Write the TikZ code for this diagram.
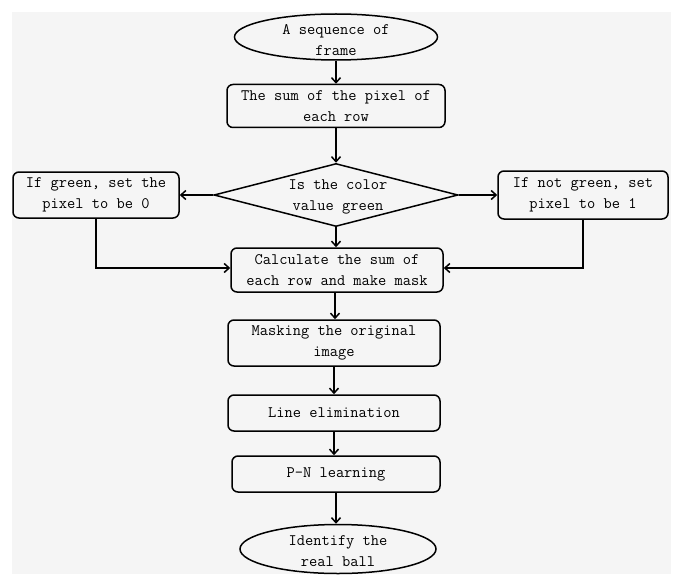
\documentclass[tikz,border=0pt]{standalone}
\usetikzlibrary{shapes.geometric,arrows.meta}
\begin{document}
\begin{tikzpicture}[x=1pt,y=1pt,
  every node/.style={font=\ttfamily\fontsize{16}{21}\selectfont},
  arr/.style={line width=1.5pt,-{Straight Barb[length=5pt,width=9pt,line width=1.5pt]}},
  txt/.style={align=center,inner sep=0pt},
  rbox/.style={draw,line width=1.5pt,rounded corners=6pt,inner sep=0pt},
  oval/.style={draw,line width=1.5pt,ellipse,inner sep=0pt},
  dia/.style={draw,line width=1.5pt,diamond,inner sep=0pt}
]
\useasboundingbox (0,0) rectangle (676,574);
\fill[black!4] (12,0) rectangle (671,562);

\node[oval,minimum width=203pt,minimum height=46pt] (start) at (336,537) {};
\node[txt] (starttxt) at (336,534) {A sequence of\\frame};

\node[rbox,minimum width=218pt,minimum height=43pt] (sum) at (336,468) {};
\node[txt] (sumtxt) at (336,468) {The sum of the pixel of\\each row};

\node[dia,minimum width=244pt,minimum height=63pt] (dec) at (336,379) {};
\node[txt] (dectxt) at (338,377) {Is the color\\value green};

\node[rbox,minimum width=166pt,minimum height=46pt] (left) at (96,379) {};
\node[txt] (lefttxt) at (96,379) {If green, set the\\pixel to be 0};

\node[rbox,minimum width=170pt,minimum height=48pt] (right) at (583,379) {};
\node[txt] (righttxt) at (583,379) {If not green, set\\pixel to be 1};

\node[rbox,minimum width=212pt,minimum height=44pt] (calc) at (337,304) {};
\node[txt] (calctxt) at (337,304) {Calculate the sum of\\each row and make mask};

\node[rbox,minimum width=212pt,minimum height=46pt] (mask) at (334,231) {};
\node[txt] (masktxt) at (334,231) {Masking the original\\image};

\node[rbox,minimum width=212pt,minimum height=36pt] (elim) at (334,161) {};
\node[txt] (elimtxt) at (334,161) {Line elimination};

\node[rbox,minimum width=208pt,minimum height=36pt] (pn) at (336,100) {};
\node[txt] (pntxt) at (336,100) {P-N learning};

\node[oval,minimum width=196pt,minimum height=49pt] (end) at (338,25) {};
\node[txt] (endtxt) at (338,23) {Identify the\\real ball};

\draw[arr] (start.south) -- (sum.north);
\draw[arr] (sum.south) -- (dec.north);
\draw[arr] (dec.west) -- (left.east);
\draw[arr] (dec.east) -- (right.west);
\draw[arr] (dec.south) -- (dec.south |- calc.north);
\draw[arr] (left.south) |- ([yshift=2pt]calc.west);
\draw[arr] (right.south) |- ([yshift=2pt]calc.east);
\draw[arr] ([xshift=-2pt]calc.south) -- ([xshift=1pt]mask.north);
\draw[arr] (mask.south) -- (elim.north);
\draw[arr] (elim.south) -- (elim.south |- pn.north);
\draw[arr] (pn.south) -- (pn.south |- end.north);
\end{tikzpicture}
\end{document}
